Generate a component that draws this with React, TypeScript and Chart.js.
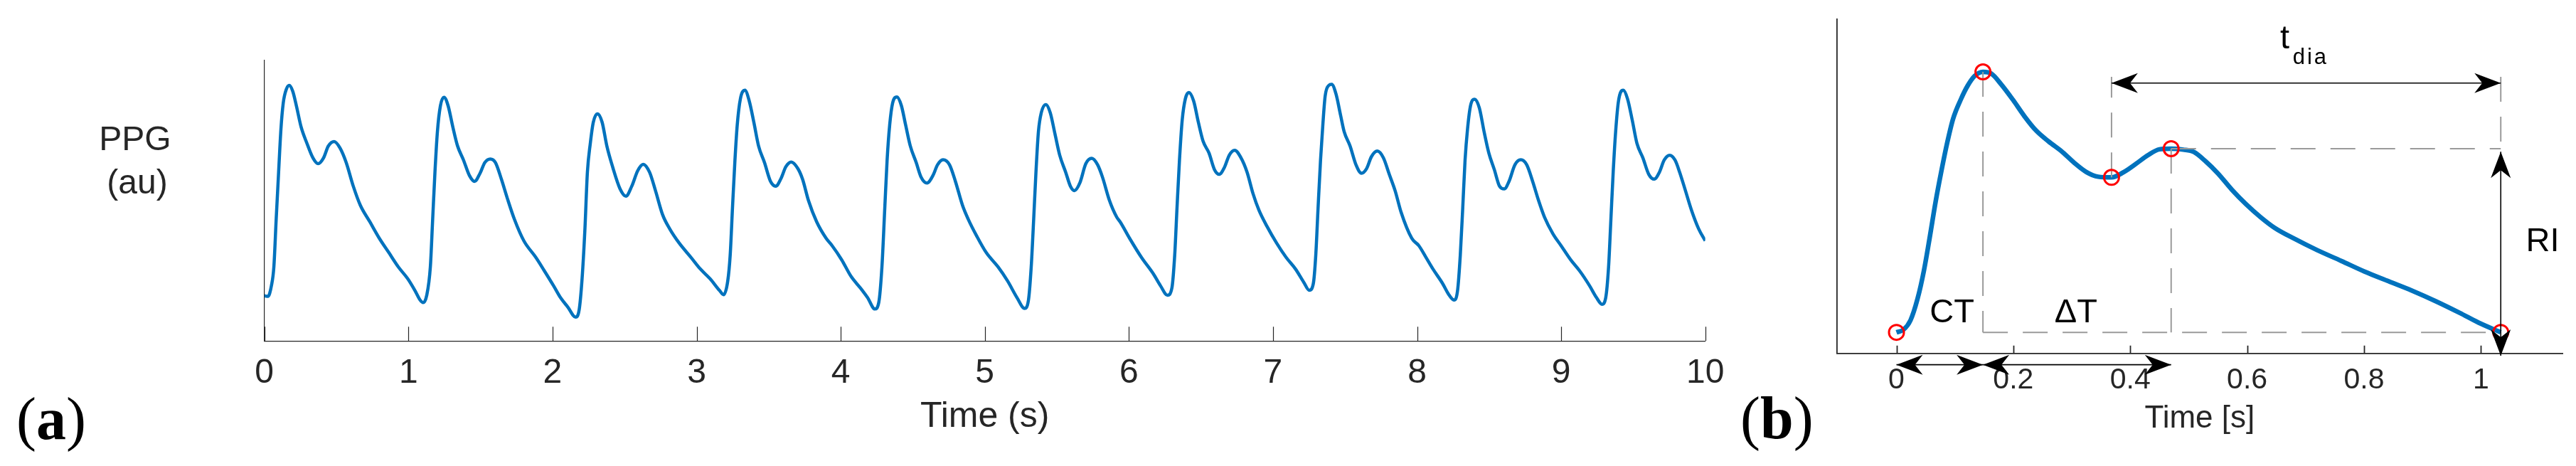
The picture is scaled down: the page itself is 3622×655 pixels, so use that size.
import React, { useEffect, useRef } from 'react';
import { Chart, registerables } from 'chart.js';

Chart.register(...registerables);

// ---------------- Panel (a): 10 s PPG recording (arbitrary units 0..100) ----------------
const ppgTime: number[] = [
  // beat 1
  0.000, 0.025, 0.049, 0.066, 0.082, 0.099, 0.115, 0.131, 0.153, 0.173, 0.197, 0.222, 0.255, 0.296, 0.337, 0.373,
  0.411, 0.444, 0.485, 0.526, 0.568, 0.617, 0.666, 0.732, 0.798, 0.864, 0.930, 0.995, 1.045, 1.081, 1.102,
  // beat 2
  1.127, 1.152, 1.168, 1.184, 1.201, 1.222, 1.247, 1.275, 1.308, 1.341, 1.382, 1.423, 1.459, 1.497, 1.530, 1.568,
  1.604, 1.645, 1.686, 1.736, 1.801, 1.884, 1.941, 2.007, 2.056, 2.106, 2.160,
  // beat 3
  2.185, 2.205, 2.224, 2.242, 2.262, 2.283, 2.312, 2.344, 2.377, 2.418, 2.468, 2.509, 2.550, 2.591, 2.629, 2.673,
  2.715, 2.764, 2.813, 2.879, 2.961, 3.027, 3.093, 3.159, 3.187,
  // beat 4
  3.216, 3.233, 3.249, 3.266, 3.282, 3.304, 3.335, 3.365, 3.397, 3.430, 3.471, 3.513, 3.549, 3.587, 3.619, 3.657,
  3.702, 3.735, 3.776, 3.833, 3.899, 3.940, 4.006, 4.072, 4.138, 4.187, 4.237,
  // beat 5
  4.264, 4.286, 4.306, 4.322, 4.340, 4.360, 4.390, 4.421, 4.450, 4.483, 4.524, 4.557, 4.599, 4.640, 4.672, 4.710,
  4.755, 4.796, 4.845, 4.886, 4.944, 5.010, 5.092, 5.158, 5.224, 5.276,
  // beat 6
  5.303, 5.322, 5.339, 5.355, 5.372, 5.392, 5.424, 5.454, 5.487, 5.520, 5.561, 5.594, 5.622, 5.660, 5.701, 5.742,
  5.783, 5.816, 5.865, 5.915, 5.939, 6.005, 6.087, 6.170, 6.219, 6.268,
  // beat 7
  6.298, 6.318, 6.334, 6.351, 6.370, 6.392, 6.416, 6.449, 6.482, 6.515, 6.556, 6.594, 6.627, 6.663, 6.696, 6.734,
  6.778, 6.820, 6.861, 6.902, 6.959, 7.025, 7.091, 7.157, 7.214, 7.252,
  // beat 8
  7.280, 7.297, 7.313, 7.330, 7.346, 7.362, 7.387, 7.407, 7.437, 7.469, 7.494, 7.535, 7.576, 7.614, 7.650, 7.683,
  7.724, 7.766, 7.807, 7.848, 7.889, 7.963, 8.012, 8.062, 8.111, 8.177, 8.218, 8.256,
  // beat 9
  8.281, 8.300, 8.317, 8.333, 8.350, 8.371, 8.399, 8.432, 8.465, 8.498, 8.536, 8.572, 8.605, 8.638, 8.679, 8.720,
  8.761, 8.802, 8.843, 8.884, 8.942, 8.999, 9.065, 9.131, 9.197, 9.246, 9.283,
  // beat 10
  9.309, 9.329, 9.345, 9.361, 9.378, 9.398, 9.431, 9.460, 9.493, 9.526, 9.567, 9.608, 9.646, 9.682, 9.715, 9.753,
  9.790, 9.822, 9.863, 9.904, 9.954, 10.000,
];

const ppgAmplitude: number[] = [
  // beat 1
  16.1, 15.9, 19.7, 26.4, 43.3, 60.2, 75.5, 84.8, 89.8, 91.1, 89.0, 83.9, 76.3, 70.4, 65.3, 63.2,
  65.3, 69.5, 71.1, 68.7, 63.6, 55.2, 48.4, 42.5, 36.6, 31.5, 26.4, 22.2, 18.0, 14.6, 13.7,
  // beat 2
  16.3, 26.4, 43.3, 60.2, 74.6, 83.9, 86.9, 83.9, 76.3, 69.5, 64.5, 59.0, 56.9, 59.8, 63.6, 64.9,
  63.6, 57.7, 50.9, 43.3, 35.7, 29.8, 25.2, 19.7, 15.4, 12.1, 8.5,
  // beat 3
  11.2, 22.2, 39.1, 60.2, 70.4, 78.0, 81.0, 78.0, 69.5, 61.9, 54.3, 51.6, 55.2, 60.7, 63.0, 60.2,
  53.5, 45.0, 40.0, 34.9, 29.8, 25.6, 22.2, 18.0, 16.5,
  // beat 4
  21.4, 30.7, 47.6, 64.5, 77.1, 86.4, 89.4, 85.6, 78.0, 69.5, 63.6, 56.9, 55.2, 58.1, 62.1, 63.8,
  61.5, 57.7, 50.1, 42.5, 36.6, 34.0, 29.0, 23.0, 18.8, 15.4, 11.4,
  // beat 5
  13.7, 26.4, 47.6, 64.5, 77.1, 84.8, 87.0, 83.9, 77.1, 69.5, 63.6, 58.5, 56.3, 59.0, 62.8, 64.6,
  62.8, 56.9, 48.4, 43.3, 37.4, 31.5, 26.4, 21.4, 15.4, 11.6,
  // beat 6
  14.6, 26.4, 43.3, 60.2, 74.6, 81.4, 84.3, 81.4, 73.8, 66.2, 60.2, 55.2, 53.6, 56.4, 63.2, 65.1,
  62.8, 58.5, 50.1, 44.2, 42.5, 36.6, 29.8, 23.9, 19.7, 16.3,
  // beat 7
  18.8, 30.7, 47.6, 64.5, 78.8, 86.4, 88.6, 85.6, 78.0, 71.2, 67.0, 61.1, 59.4, 61.9, 66.2, 68.0,
  65.3, 60.2, 52.6, 46.7, 40.8, 34.9, 29.8, 25.6, 20.9, 18.1,
  // beat 8
  20.5, 30.7, 47.6, 64.5, 77.1, 87.3, 91.1, 91.5, 88.1, 80.5, 74.6, 69.5, 62.8, 59.8, 61.5, 65.7,
  67.7, 65.3, 59.4, 53.5, 45.9, 36.6, 34.0, 29.8, 25.6, 20.5, 16.7, 14.6,
  // beat 9
  18.0, 30.7, 47.6, 64.5, 75.5, 83.9, 86.2, 83.1, 74.6, 67.0, 61.1, 55.2, 54.2, 56.9, 62.8, 64.6,
  62.8, 56.9, 50.1, 44.2, 38.3, 34.0, 29.0, 24.8, 19.7, 15.4, 13.1,
  // beat 10
  15.4, 26.4, 43.3, 60.2, 74.6, 85.6, 89.4, 86.4, 78.8, 70.4, 65.3, 59.4, 57.7, 60.2, 64.5, 66.2,
  64.5, 60.2, 53.5, 46.7, 40.0, 35.7,
];

const ppgTickValues: number[] = [0, 1, 2, 3, 4, 5, 6, 7, 8, 9, 10];
const ppgTickLabels: string[] = ['0', '1', '2', '3', '4', '5', '6', '7', '8', '9', '10'];

// ---------------- Panel (b): one pulse with fiducial points ----------------
const pulseTime: number[] = [
  0.000, 0.012, 0.024, 0.036, 0.047, 0.057, 0.067, 0.077, 0.087, 0.097, 0.110, 0.122, 0.134, 0.148, 0.162, 0.179,
  0.199, 0.219, 0.239, 0.260, 0.284, 0.304, 0.325, 0.345, 0.368, 0.389, 0.410, 0.430, 0.450, 0.470, 0.491, 0.509,
  0.529, 0.550, 0.574, 0.598, 0.623, 0.647, 0.680, 0.720, 0.761, 0.801, 0.842, 0.882, 0.923, 0.964, 0.996, 1.034,
];
const pulseAmplitude: number[] = [
  6.3, 7.1, 9.9, 16.3, 24.8, 34.8, 45.4, 54.7, 63.2, 70.3, 76.0, 80.2, 83.1, 84.3, 83.8, 80.6,
  76.0, 71.0, 66.7, 63.5, 60.3, 57.1, 54.3, 52.9, 52.7, 54.3, 56.8, 59.3, 61.1, 61.3, 61.0, 60.3,
  57.5, 53.9, 49.0, 44.7, 40.8, 37.6, 34.4, 30.9, 27.7, 24.5, 21.6, 18.8, 15.6, 12.1, 9.2, 6.3,
];
const pulseTickValues: number[] = [0, 0.2, 0.4, 0.6, 0.8, 1];
const pulseTickLabels: string[] = ['0', '0.2', '0.4', '0.6', '0.8', '1'];

// fiducial points: onset, systolic peak, dicrotic notch, diastolic peak, end of pulse
const fiducialTime: number[] = [0, 0.148, 0.368, 0.47, 1.034];
const fiducialAmplitude: number[] = [6.3, 84.3, 52.7, 61.3, 6.3];

// levels (data units) of the annotation arrows
const tDiaArrowLevel = 80.95;
const guideTopLevel = 82.8;
const intervalArrowLevel = -3.4;
const riArrowTop = 60.4;
const riArrowBottom = -0.7;

// ---------------- styles ----------------
const SANS = "'Liberation Sans', Arial, Helvetica, sans-serif";
const SERIF = "'Liberation Serif', 'Times New Roman', serif";
const AXIS = '#262626';
const BLUE = '#0072BD';
const GUIDE = '#9A9A9A';

function pts(xs: number[], ys: number[]) {
  const n = Math.min(xs.length, ys.length);
  const out: { x: number; y: number }[] = [];
  for (let i = 0; i < n; i++) out.push({ x: xs[i], y: ys[i] });
  return out;
}

function drawPanelLabel(ctx: CanvasRenderingContext2D, letter: string, x: number, baseline: number) {
  ctx.save();
  ctx.fillStyle = '#000';
  ctx.textAlign = 'left';
  ctx.textBaseline = 'alphabetic';
  const reg = `84px ${SERIF}`;
  const bold = `bold 84px ${SERIF}`;
  ctx.font = reg;
  ctx.fillText('(', x, baseline);
  let w = ctx.measureText('(').width;
  ctx.font = bold;
  ctx.fillText(letter, x + w, baseline);
  w += ctx.measureText(letter).width;
  ctx.font = reg;
  ctx.fillText(')', x + w, baseline);
  ctx.restore();
}

function inwardTicks(chart: any, values: number[], len: number, width: number) {
  const { ctx, chartArea } = chart;
  const xs = chart.scales.x;
  ctx.save();
  ctx.strokeStyle = AXIS;
  ctx.lineWidth = width;
  ctx.beginPath();
  for (const v of values) {
    const x = Math.round(xs.getPixelForValue(v)) + 0.5;
    ctx.moveTo(x, chartArea.bottom);
    ctx.lineTo(x, chartArea.bottom - len);
  }
  ctx.stroke();
  ctx.restore();
}

const HEAD_L = 37;
const HEAD_W = 14;
const HEAD_N = 26;

function arrowHead(ctx: CanvasRenderingContext2D, tx: number, ty: number, ux: number, uy: number) {
  const nx = -uy;
  const ny = ux;
  ctx.beginPath();
  ctx.moveTo(tx, ty);
  ctx.lineTo(tx - ux * HEAD_L + nx * HEAD_W, ty - uy * HEAD_L + ny * HEAD_W);
  ctx.lineTo(tx - ux * HEAD_N, ty - uy * HEAD_N);
  ctx.lineTo(tx - ux * HEAD_L - nx * HEAD_W, ty - uy * HEAD_L - ny * HEAD_W);
  ctx.closePath();
  ctx.fill();
}

function doubleArrow(ctx: CanvasRenderingContext2D, x1: number, y1: number, x2: number, y2: number) {
  const d = Math.hypot(x2 - x1, y2 - y1) || 1;
  const ux = (x2 - x1) / d;
  const uy = (y2 - y1) / d;
  ctx.beginPath();
  ctx.moveTo(x1, y1);
  ctx.lineTo(x2, y2);
  ctx.stroke();
  arrowHead(ctx, x2, y2, ux, uy);
  arrowHead(ctx, x1, y1, -ux, -uy);
}

const ppgDecor = {
  id: 'ppgDecor',
  beforeDatasetsDraw(chart: any) {
    inwardTicks(chart, ppgTickValues, 20, 1.2);
  },
  afterDraw(chart: any) {
    const ctx: CanvasRenderingContext2D = chart.ctx;
    ctx.save();
    ctx.fillStyle = AXIS;
    ctx.textAlign = 'center';
    ctx.textBaseline = 'alphabetic';
    ctx.font = `48px ${SANS}`;
    ctx.fillText('PPG', 190, 211);
    ctx.fillText('(au)', 193, 272);
    ctx.restore();
    drawPanelLabel(ctx, 'a', 23, 617);
  },
};

const pulseDecor = {
  id: 'pulseDecor',
  beforeDatasetsDraw(chart: any) {
    inwardTicks(chart, pulseTickValues, 11, 1.8);
  },
  afterDatasetsDraw(chart: any) {
    const ctx: CanvasRenderingContext2D = chart.ctx;
    const xs = chart.scales.x;
    const ys = chart.scales.y;
    const X = (v: number) => xs.getPixelForValue(v);
    const Y = (v: number) => ys.getPixelForValue(v);
    ctx.save();
    ctx.strokeStyle = '#000';
    ctx.fillStyle = '#000';
    ctx.lineWidth = 1.6;
    // t_dia : dicrotic notch -> end
    doubleArrow(ctx, X(fiducialTime[2]), Y(tDiaArrowLevel), X(fiducialTime[4]), Y(tDiaArrowLevel));
    // CT : onset -> systolic peak
    doubleArrow(ctx, X(fiducialTime[0]), Y(intervalArrowLevel), X(fiducialTime[1]), Y(intervalArrowLevel));
    // ΔT : systolic peak -> diastolic peak
    doubleArrow(ctx, X(fiducialTime[1]), Y(intervalArrowLevel), X(fiducialTime[3]), Y(intervalArrowLevel));
    // RI : vertical
    doubleArrow(ctx, X(fiducialTime[4]), Y(riArrowTop), X(fiducialTime[4]), Y(riArrowBottom));

    ctx.textAlign = 'center';
    ctx.textBaseline = 'middle';
    ctx.font = `47px ${SANS}`;
    ctx.fillText('CT', X(0.095), Y(12.1));
    ctx.fillText('\u0394T', X(0.307), Y(12.1));
    ctx.fillText('RI', X(1.1055), Y(33.4));

    ctx.textAlign = 'left';
    ctx.textBaseline = 'alphabetic';
    ctx.font = `47px ${SANS}`;
    ctx.fillText('t', X(0.6565), Y(91.3));
    ctx.font = `31px ${SANS}`;
    try { (ctx as any).letterSpacing = '3px'; } catch (e) { /* ignore */ }
    ctx.fillText('dia', X(0.678), Y(86.6));
    try { (ctx as any).letterSpacing = '0px'; } catch (e) { /* ignore */ }
    ctx.restore();

    drawPanelLabel(ctx, 'b', 27, 616);
  },
};

function guide(x1: number, y1: number, x2: number, y2: number) {
  return {
    data: [{ x: x1, y: y1 }, { x: x2, y: y2 }],
    borderColor: GUIDE,
    borderWidth: 2,
    borderDash: [35, 21],
    borderCapStyle: 'butt',
    pointRadius: 0,
    tension: 0,
    fill: false,
  };
}

export default function App() {
  const refA = useRef<HTMLCanvasElement>(null);
  const refB = useRef<HTMLCanvasElement>(null);

  useEffect(() => {
    document.body.style.margin = '0';
    const common = {
      responsive: false,
      animation: false as const,
      devicePixelRatio: 1,
      events: [] as any[],
      plugins: { legend: { display: false }, tooltip: { enabled: false } },
    };

    const chartA = new Chart(refA.current as HTMLCanvasElement, {
      type: 'line',
      data: {
        datasets: [
          {
            data: pts(ppgTime, ppgAmplitude),
            borderColor: BLUE,
            borderWidth: 4.5,
            pointRadius: 0,
            cubicInterpolationMode: 'monotone',
            borderJoinStyle: 'round',
            fill: false,
          } as any,
        ],
      },
      options: {
        ...common,
        layout: { padding: { left: 371.7, right: 72.3, top: 85, bottom: 0 } },
        scales: {
          x: {
            type: 'linear',
            min: 0,
            max: 10,
            afterBuildTicks: (s: any) => {
              s.ticks = ppgTickValues.map((v) => ({ value: v }));
            },
            afterFit: (s: any) => {
              s.height = 175.7;
            },
            grid: { display: false, drawTicks: false },
            border: { display: true, color: AXIS, width: 1.2 },
            ticks: {
              autoSkip: false,
              maxRotation: 0,
              padding: 16.9,
              color: AXIS,
              font: { family: SANS, size: 48 },
              callback: (_v: any, i: number) => ppgTickLabels[i],
            },
            title: {
              display: true,
              text: 'Time (s)',
              color: AXIS,
              font: { family: SANS, size: 50 },
              padding: { top: 0, bottom: 39 },
            },
          },
          y: {
            type: 'linear',
            min: 0,
            max: 100,
            afterFit: (s: any) => {
              s.width = 0;
            },
            grid: { display: false, drawTicks: false },
            border: { display: true, color: AXIS, width: 1.2 },
            ticks: { display: false },
          },
        },
      } as any,
      plugins: [ppgDecor],
    });

    const chartB = new Chart(refB.current as HTMLCanvasElement, {
      type: 'line',
      data: {
        datasets: [
          {
            data: pts(fiducialTime, fiducialAmplitude),
            showLine: false,
            pointRadius: 10.5,
            pointBorderWidth: 3,
            pointBorderColor: '#FF0000',
            pointBackgroundColor: 'rgba(0,0,0,0)',
            pointStyle: 'circle',
            clip: false,
          } as any,
          guide(fiducialTime[1], fiducialAmplitude[1], fiducialTime[1], fiducialAmplitude[0]),
          guide(fiducialTime[2], fiducialAmplitude[2], fiducialTime[2], guideTopLevel),
          guide(fiducialTime[3], fiducialAmplitude[3], fiducialTime[3], fiducialAmplitude[4]),
          guide(fiducialTime[4], guideTopLevel, fiducialTime[4], fiducialAmplitude[3]),
          guide(fiducialTime[3], fiducialAmplitude[3], fiducialTime[4], fiducialAmplitude[3]),
          guide(fiducialTime[1], fiducialAmplitude[4], fiducialTime[4], fiducialAmplitude[4]),
          {
            data: pts(pulseTime, pulseAmplitude),
            borderColor: BLUE,
            borderWidth: 6.5,
            pointRadius: 0,
            cubicInterpolationMode: 'monotone',
            borderJoinStyle: 'round',
            fill: false,
          } as any,
        ] as any,
      },
      options: {
        ...common,
        layout: { padding: { left: 162.7, right: 19, top: 27.3, bottom: 0 } },
        scales: {
          x: {
            type: 'linear',
            min: -0.102,
            max: 1.1396,
            afterBuildTicks: (s: any) => {
              s.ticks = pulseTickValues.map((v) => ({ value: v }));
            },
            afterFit: (s: any) => {
              s.height = 158.3;
            },
            grid: { display: false, drawTicks: false },
            border: { display: true, color: AXIS, width: 1.8 },
            ticks: {
              autoSkip: false,
              maxRotation: 0,
              padding: 13.7,
              color: AXIS,
              font: { family: SANS, size: 41 },
              callback: (_v: any, i: number) => pulseTickLabels[i],
            },
            title: {
              display: true,
              text: 'Time [s]',
              color: AXIS,
              font: { family: SANS, size: 44 },
              padding: { top: 0, bottom: 39.6 },
            },
          },
          y: {
            type: 'linear',
            min: 0,
            max: 100,
            afterFit: (s: any) => {
              s.width = 0;
            },
            grid: { display: false, drawTicks: false },
            border: { display: true, color: AXIS, width: 1.8 },
            ticks: { display: false },
          },
        },
      } as any,
      plugins: [pulseDecor],
    });

    return () => {
      chartA.destroy();
      chartB.destroy();
    };
  }, []);

  return (
    <div
      style={{
        position: 'absolute',
        left: 0,
        top: 0,
        width: 3622,
        height: 655,
        background: '#ffffff',
        overflow: 'hidden',
      }}
    >
      <canvas
        ref={refA}
        width={2470}
        height={655}
        style={{ position: 'absolute', left: 0, top: 0, width: 2470, height: 655 }}
      />
      <canvas
        ref={refB}
        width={1202}
        height={655}
        style={{ position: 'absolute', left: 2420, top: 0, width: 1202, height: 655 }}
      />
    </div>
  );
}
